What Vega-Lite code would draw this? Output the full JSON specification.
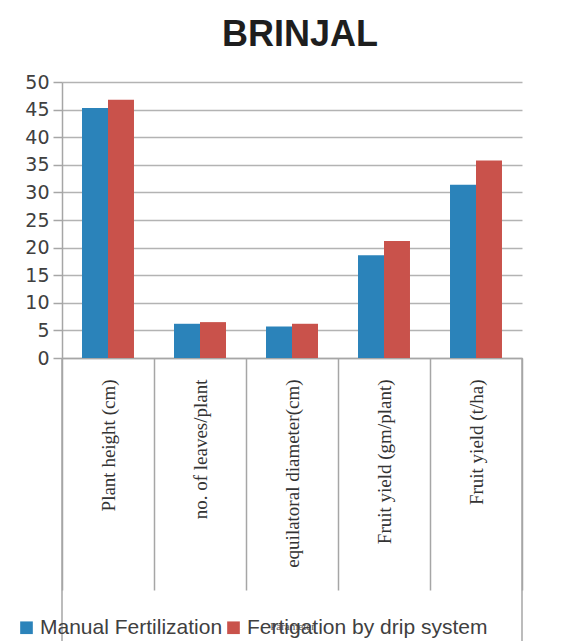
{
  "$schema": "https://vega.github.io/schema/vega-lite/v6.json",
  "width": 460,
  "height": 276,
  "autosize": {"type": "none"},
  "padding": {"left": 62, "top": 82, "right": 55, "bottom": 283},
  "background": "white",
  "title": {"text": "BRINJAL", "fontSize": 36, "font": "Liberation Sans", "fontWeight": "bold", "color": "#1e1e1e", "offset": 19, "dx": 8},
  "config": {
    "view": {"stroke": null},
    "axisY": {
      "tickCount": 10,
      "labelFont": "DejaVu Sans", "labelFontSize": 19, "labelColor": "#404040", "labelPadding": 4,
      "tickSize": 9, "tickColor": "#a6a6a6", "tickWidth": 1.5,
      "domainColor": "#a6a6a6", "domainWidth": 1.5,
      "grid": true, "gridColor": "#b3b3b3", "gridWidth": 1.5
    }
  },
  "data": {"values": [
    {"parameter": "Plant height (cm)", "series": "Manual Fertilization", "value": 45.3},
    {"parameter": "Plant height (cm)", "series": "Fertigation by drip system", "value": 46.8},
    {"parameter": "no. of leaves/plant", "series": "Manual Fertilization", "value": 6.2},
    {"parameter": "no. of leaves/plant", "series": "Fertigation by drip system", "value": 6.5},
    {"parameter": "equilatoral diameter(cm)", "series": "Manual Fertilization", "value": 5.7},
    {"parameter": "equilatoral diameter(cm)", "series": "Fertigation by drip system", "value": 6.2},
    {"parameter": "Fruit yield (gm/plant)", "series": "Manual Fertilization", "value": 18.6},
    {"parameter": "Fruit yield (gm/plant)", "series": "Fertigation by drip system", "value": 21.2},
    {"parameter": "Fruit yield (t/ha)", "series": "Manual Fertilization", "value": 31.4},
    {"parameter": "Fruit yield (t/ha)", "series": "Fertigation by drip system", "value": 35.8}
  ]},
  "layer": [
    {
      "mark": {"type": "bar"},
      "encoding": {
        "x": {
          "field": "parameter", "type": "nominal",
          "sort": ["Plant height (cm)", "no. of leaves/plant", "equilatoral diameter(cm)", "Fruit yield (gm/plant)", "Fruit yield (t/ha)"],
          "scale": {"paddingInner": 0, "paddingOuter": 0},
          "axis": {
            "title": "Parameter", "titleFontSize": 11, "titleFont": "Liberation Serif", "titleFontWeight": "normal", "titleColor": "#555555", "titleY": 262,
            "labelAngle": -90, "labelFont": "Liberation Serif", "labelFontSize": 19, "labelColor": "#333333", "labelPadding": -211, "labelLimit": 300,
            "tickBand": "extent", "tickSize": 232, "tickColor": "#a6a6a6", "tickWidth": 1.5,
            "domainColor": "#a6a6a6", "domainWidth": 1.5
          }
        },
        "xOffset": {"field": "series", "type": "nominal", "sort": ["Manual Fertilization", "Fertigation by drip system"],
          "scale": {"paddingInner": 0, "paddingOuter": 0.77}},
        "y": {
          "field": "value", "type": "quantitative",
          "scale": {"domain": [0, 50], "nice": false},
          "axis": {"title": null}
        },
        "color": {
          "field": "series", "type": "nominal",
          "scale": {"domain": ["Manual Fertilization", "Fertigation by drip system"], "range": ["#2b83ba", "#c9524b"]},
          "legend": {
            "orient": "none", "legendX": -46, "legendY": 535, "direction": "horizontal", "title": null,
            "symbolType": "square", "symbolSize": 160, "symbolStrokeWidth": 0, "labelFontSize": 21, "labelFont": "Liberation Sans",
            "labelColor": "#404040", "columnPadding": -4, "labelOffset": 3, "labelLimit": 400
          }
        }
      }
    },
    {
      "transform": [{"filter": "datum.parameter == 'Plant height (cm)' && datum.series == 'Manual Fertilization'"}],
      "mark": {"type": "rule", "color": "#a6a6a6", "strokeWidth": 1.5},
      "encoding": {
        "x": {"field": "parameter", "type": "nominal", "bandPosition": 0,
          "sort": ["Plant height (cm)", "no. of leaves/plant", "equilatoral diameter(cm)", "Fruit yield (gm/plant)", "Fruit yield (t/ha)"]},
        "y": {"datum": 0, "type": "quantitative"},
        "y2": {"datum": -51.3}
      }
    },
    {
      "transform": [{"filter": "datum.parameter == 'Fruit yield (t/ha)' && datum.series == 'Manual Fertilization'"}],
      "mark": {"type": "rule", "color": "#a6a6a6", "strokeWidth": 1.5},
      "encoding": {
        "x": {"field": "parameter", "type": "nominal", "bandPosition": 1,
          "sort": ["Plant height (cm)", "no. of leaves/plant", "equilatoral diameter(cm)", "Fruit yield (gm/plant)", "Fruit yield (t/ha)"]},
        "y": {"datum": 0, "type": "quantitative"},
        "y2": {"datum": -51.3}
      }
    }
  ]
}
